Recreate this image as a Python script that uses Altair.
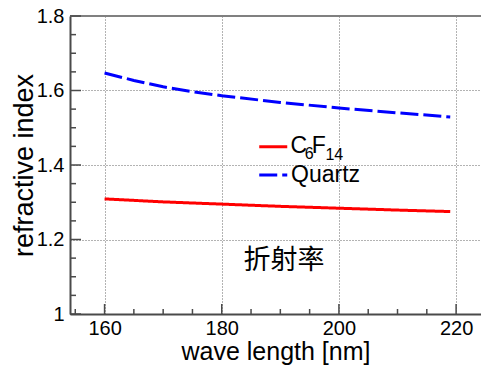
import altair as alt
import pandas as pd

# ---- data ----
wl_c6f14 = [160, 170, 180, 190, 200, 210, 219]
n_c6f14 = [1.309, 1.301, 1.295, 1.289, 1.284, 1.279, 1.275]

wl_quartz = [160, 165, 170, 175, 180, 190, 200, 210, 219]
n_quartz = [1.647, 1.627, 1.610, 1.597, 1.586, 1.568, 1.553, 1.540, 1.529]

materials = ["C6F14", "Quartz"]
x_ticks_major = [160, 180, 200, 220]
x_ticks_minor = [155, 165, 170, 175, 185, 190, 195, 205, 210, 215]
y_ticks_major = [1.0, 1.2, 1.4, 1.6, 1.8]
y_ticks_minor = [1.05, 1.1, 1.15, 1.25, 1.3, 1.35, 1.45, 1.5, 1.55, 1.65, 1.7, 1.75]

# legend / annotation anchors (data units)
legend_wl = [186.4, 191.18]
legend_n = [1.4491, 1.3731]
big_text = ["C", "F", "Quartz"]
big_wl = [191.75, 195.35, 191.83]
big_n = [1.4320, 1.4320, 1.3552]
sub_text = ["6", "14"]
sub_wl = [194.15, 197.7]
sub_n = [1.4160, 1.4135]
note_text = ["折射率"]
note_wl = [190.63]
note_n = [1.1423]

# ---- styles ----
X_DOM = [154.1, 224.25]
Y_DOM = [1.0, 1.8]
W, H = 411, 298
PX_X = W / (X_DOM[1] - X_DOM[0])
PX_Y = H / (Y_DOM[1] - Y_DOM[0])
AXIS_COL = "#4a4a4a"
FONT = "Liberation Sans"

colors = ["#ff0000", "#0000ff"]
dashes = [[1, 0], [18, 5]]

lines_df = pd.DataFrame(
    {"wl": wl_c6f14 + wl_quartz,
     "n": n_c6f14 + n_quartz,
     "mat": ["C6F14"] * len(wl_c6f14) + ["Quartz"] * len(wl_quartz)}
)

X = alt.X("wl:Q", scale=alt.Scale(domain=X_DOM, nice=False, zero=False),
          axis=alt.Axis(title="wave length [nm]", values=x_ticks_major, ticks=False,
                        grid=True, gridDash=[1, 2], gridColor="#666666", gridWidth=1,
                        domainColor=AXIS_COL, domainWidth=2, labelPadding=4,
                        titlePadding=1, titleFontSize=25, labelFlush=False))
Y = alt.Y("n:Q", scale=alt.Scale(domain=Y_DOM, nice=False, zero=False),
          axis=alt.Axis(title="refractive index", values=y_ticks_major, ticks=False,
                        format="~g", grid=True, gridDash=[1, 2], gridColor="#666666",
                        gridWidth=1, domainColor=AXIS_COL, domainWidth=2,
                        labelPadding=6, titlePadding=-2, titleFontSize=27,
                        labelFlush=False))

color = alt.Color("mat:N", scale=alt.Scale(domain=materials, range=colors), legend=None)
dash = alt.StrokeDash("mat:N", scale=alt.Scale(domain=materials, range=dashes), legend=None)

lines = alt.Chart(lines_df).mark_line(strokeWidth=3, clip=True).encode(
    x=X, y=Y, color=color, strokeDash=dash, order="wl:Q")

# top frame line
top = alt.Chart(pd.DataFrame({"n": [Y_DOM[1]]})).mark_rule(
    color="#808080", strokeWidth=2).encode(y=Y)

# inward ticks
yt = pd.DataFrame({
    "n": y_ticks_major + y_ticks_minor,
    "wl": [X_DOM[0]] * (len(y_ticks_major) + len(y_ticks_minor)),
    "wl2": [X_DOM[0] + 11 / PX_X] * len(y_ticks_major) + [X_DOM[0] + 6 / PX_X] * len(y_ticks_minor),
})
xt = pd.DataFrame({
    "wl": x_ticks_major + x_ticks_minor,
    "n": [Y_DOM[0]] * (len(x_ticks_major) + len(x_ticks_minor)),
    "n2": [Y_DOM[0] + 10 / PX_Y] * len(x_ticks_major) + [Y_DOM[0] + 5 / PX_Y] * len(x_ticks_minor),
})
yticks = alt.Chart(yt).mark_rule(color=AXIS_COL, strokeWidth=1.5).encode(
    x=X, x2=alt.X2("wl2:Q"), y=Y)
xticks = alt.Chart(xt).mark_rule(color=AXIS_COL, strokeWidth=1.5).encode(
    x=X, y=Y, y2=alt.Y2("n2:Q"))

# legend samples
leg_df = pd.DataFrame({"wl": [legend_wl[0]] * 2, "wl2": [legend_wl[1]] * 2,
                       "n": legend_n, "mat": materials})
leg = alt.Chart(leg_df).mark_rule(strokeWidth=3).encode(
    x=X, x2=alt.X2("wl2:Q"), y=Y, color=color, strokeDash=dash)

big = alt.Chart(pd.DataFrame({"wl": big_wl, "n": big_n, "t": big_text})).mark_text(
    align="left", baseline="alphabetic", font=FONT, fontSize=23, color="black"
).encode(x=X, y=Y, text="t:N")
sub = alt.Chart(pd.DataFrame({"wl": sub_wl, "n": sub_n, "t": sub_text})).mark_text(
    align="left", baseline="alphabetic", font=FONT, fontSize=16, color="black"
).encode(x=X, y=Y, text="t:N")
note = alt.Chart(pd.DataFrame({"wl": note_wl, "n": note_n, "t": note_text})).mark_text(
    align="center", baseline="middle", font="Noto Sans CJK SC", fontSize=27, color="black"
).encode(x=X, y=Y, text="t:N")

chart = alt.layer(lines, top, yticks, xticks, leg, big, sub, note).properties(
    width=W, height=H,
    padding={"left": 70, "top": 16, "right": 0, "bottom": 56},
    autosize=alt.AutoSizeParams(type="none"),
    background="white",
).configure_view(stroke=None).configure_axis(
    labelFont=FONT, labelFontSize=20, labelColor="black",
    titleFont=FONT, titleFontWeight="normal", titleColor="black",
)

chart.save("out.html", embed_options={"renderer": "svg", "actions": False})
